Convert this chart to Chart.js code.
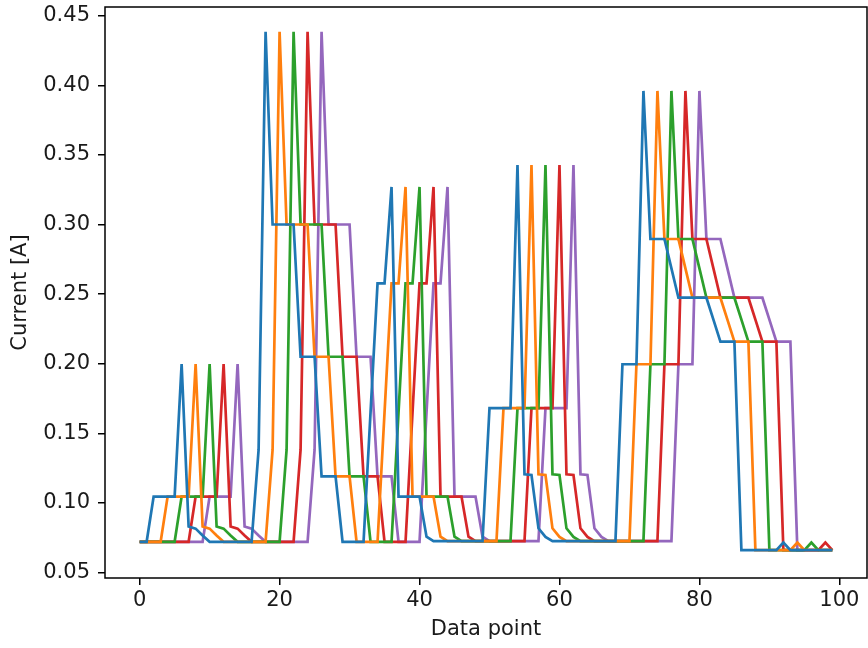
<!DOCTYPE html>
<html>
<head>
<meta charset="utf-8">
<script src="https://cdn.jsdelivr.net/npm/chart.js@4/dist/chart.umd.min.js"></script>
<style>
  html, body { margin: 0; padding: 0; background: #ffffff; }
  #wrap { width: 868px; height: 648px; position: relative; }
</style>
</head>
<body>
<div id="wrap"><canvas id="c" width="868" height="648"></canvas></div>
<script>
// ---- data ----
const xTicks = [0, 20, 40, 60, 80, 100];
const yTicks = [0.05, 0.10, 0.15, 0.20, 0.25, 0.30, 0.35, 0.40, 0.45];
const seriesNames = ['s0', 's1', 's2', 's3', 's4'];
const seriesColors = ['#1f77b4', '#ff7f0e', '#2ca02c', '#d62728', '#9467bd'];

const blue = [
  0.072,0.072,0.1045,0.1045,0.1045,0.1045,0.1998,0.083,0.0815,0.0765,
  0.072,0.072,0.072,0.072,0.072,0.072,0.072,0.138,0.4385,0.300,
  0.300,0.300,0.300,0.205,0.205,0.205,0.119,0.119,0.119,0.072,
  0.072,0.072,0.072,0.165,0.2577,0.2577,0.327,0.1045,0.1045,0.1045,
  0.1045,0.0757,0.0725,0.0725,0.0725,0.0725,0.0725,0.0725,0.0725,0.0725,
  0.168,0.168,0.168,0.168,0.3427,0.1205,0.12,0.0817,0.0755,0.0725,
  0.0725,0.0725,0.0725,0.0725,0.0725,0.0725,0.0725,0.0725,0.0725,0.1996,
  0.1996,0.1996,0.396,0.2896,0.2896,0.2896,0.2685,0.2474,0.2474,0.2474,
  0.2474,0.2474,0.2316,0.2158,0.2158,0.2158,0.066,0.066,0.066,0.066,
  0.066,0.066,0.0715,0.066,0.066,0.066,0.066,0.066,0.066,0.066
];
const orange = [
  0.072,0.072,0.072,0.072,0.1045,0.1045,0.1045,0.1045,0.1998,0.083,
  0.0815,0.0765,0.072,0.072,0.072,0.072,0.072,0.072,0.072,0.138,
  0.4385,0.300,0.300,0.300,0.300,0.205,0.205,0.205,0.119,0.119,
  0.119,0.072,0.072,0.072,0.072,0.165,0.2577,0.2577,0.327,0.1045,
  0.1045,0.1045,0.1045,0.0757,0.0725,0.0725,0.0725,0.0725,0.0725,0.0725,
  0.0725,0.0725,0.168,0.168,0.168,0.168,0.3427,0.1205,0.12,0.0817,
  0.0755,0.0725,0.0725,0.0725,0.0725,0.0725,0.0725,0.0725,0.0725,0.0725,
  0.0725,0.1996,0.1996,0.1996,0.396,0.2896,0.2896,0.2896,0.2685,0.2474,
  0.2474,0.2474,0.2474,0.2474,0.2316,0.2158,0.2158,0.2158,0.066,0.066,
  0.066,0.066,0.066,0.066,0.0715,0.066,0.066,0.066,0.066,0.066
];
const green = [
  0.072,0.072,0.072,0.072,0.072,0.072,0.1045,0.1045,0.1045,0.1045,
  0.1998,0.083,0.0815,0.0765,0.072,0.072,0.072,0.072,0.072,0.072,
  0.072,0.138,0.4385,0.300,0.300,0.300,0.300,0.205,0.205,0.205,
  0.119,0.119,0.119,0.072,0.072,0.072,0.072,0.165,0.2577,0.2577,
  0.327,0.1045,0.1045,0.1045,0.1045,0.0757,0.0725,0.0725,0.0725,0.0725,
  0.0725,0.0725,0.0725,0.0725,0.168,0.168,0.168,0.168,0.3427,0.1205,
  0.12,0.0817,0.0755,0.0725,0.0725,0.0725,0.0725,0.0725,0.0725,0.0725,
  0.0725,0.0725,0.0725,0.1996,0.1996,0.1996,0.396,0.2896,0.2896,0.2896,
  0.2685,0.2474,0.2474,0.2474,0.2474,0.2474,0.2316,0.2158,0.2158,0.2158,
  0.066,0.066,0.066,0.066,0.066,0.066,0.0715,0.066,0.066,0.066
];
const red = [
  0.072,0.072,0.072,0.072,0.072,0.072,0.072,0.072,0.1045,0.1045,
  0.1045,0.1045,0.1998,0.083,0.0815,0.0765,0.072,0.072,0.072,0.072,
  0.072,0.072,0.072,0.138,0.4385,0.300,0.300,0.300,0.300,0.205,
  0.205,0.205,0.119,0.119,0.119,0.072,0.072,0.072,0.072,0.165,
  0.2577,0.2577,0.327,0.1045,0.1045,0.1045,0.1045,0.0757,0.0725,0.0725,
  0.0725,0.0725,0.0725,0.0725,0.0725,0.0725,0.168,0.168,0.168,0.168,
  0.3427,0.1205,0.12,0.0817,0.0755,0.0725,0.0725,0.0725,0.0725,0.0725,
  0.0725,0.0725,0.0725,0.0725,0.0725,0.1996,0.1996,0.1996,0.396,0.2896,
  0.2896,0.2896,0.2685,0.2474,0.2474,0.2474,0.2474,0.2474,0.2316,0.2158,
  0.2158,0.2158,0.066,0.066,0.066,0.066,0.066,0.066,0.0715,0.066
];
const purple = [
  0.072,0.072,0.072,0.072,0.072,0.072,0.072,0.072,0.072,0.072,
  0.1045,0.1045,0.1045,0.1045,0.1998,0.083,0.0815,0.0765,0.072,0.072,
  0.072,0.072,0.072,0.072,0.072,0.138,0.4385,0.300,0.300,0.300,
  0.300,0.205,0.205,0.205,0.119,0.119,0.119,0.072,0.072,0.072,
  0.072,0.165,0.2577,0.2577,0.327,0.1045,0.1045,0.1045,0.1045,0.0757,
  0.0725,0.0725,0.0725,0.0725,0.0725,0.0725,0.0725,0.0725,0.168,0.168,
  0.168,0.168,0.3427,0.1205,0.12,0.0817,0.0755,0.0725,0.0725,0.0725,
  0.0725,0.0725,0.0725,0.0725,0.0725,0.0725,0.0725,0.1996,0.1996,0.1996,
  0.396,0.2896,0.2896,0.2896,0.2685,0.2474,0.2474,0.2474,0.2474,0.2474,
  0.2316,0.2158,0.2158,0.2158,0.066,0.066,0.066,0.066,0.066,0.066
];
const seriesValues = [blue, orange, green, red, purple];

// ---- chart ----
const FONT = "'DejaVu Sans', 'Liberation Sans', sans-serif";
const TEXT = '#1a1a1a';

const frame = {
  id: 'frame',
  afterDatasetsDraw(chart) {
    const {ctx, chartArea: a} = chart;
    ctx.save();
    ctx.strokeStyle = '#000';
    ctx.lineWidth = 1.5;
    ctx.strokeRect(a.left, a.top, a.right - a.left, a.bottom - a.top);
    ctx.restore();
  }
};

new Chart(document.getElementById('c'), {
  type: 'line',
  data: {
    datasets: seriesValues.map((vals, k) => ({
      label: seriesNames[k],
      data: vals.map((v, i) => ({x: i, y: v})),
      borderColor: seriesColors[k],
      backgroundColor: seriesColors[k],
      borderWidth: 2.7,
      pointRadius: 0,
      tension: 0,
      fill: false
    }))
  },
  options: {
    responsive: false,
    animation: false,
    events: [],
    layout: { padding: { top: 7, right: 1, left: 0, bottom: 0 } },
    plugins: { legend: { display: false }, tooltip: { enabled: false } },
    scales: {
      x: {
        type: 'linear',
        min: -4.95,
        max: 103.95,
        afterBuildTicks(s) { s.ticks = xTicks.map(v => ({value: v})); },
        afterFit(s) { s.height = 70; s.paddingLeft = 0; s.paddingRight = 0; },
        border: { display: false },
        grid: { drawOnChartArea: false, drawTicks: true, tickLength: 7, color: '#000', lineWidth: 1.5 },
        ticks: { color: TEXT, font: { family: FONT, size: 21 }, padding: 3, maxRotation: 0, autoSkip: false,
                 callback: v => String(v) },
        title: { display: true, text: 'Data point', color: TEXT, font: { family: FONT, size: 21 },
                 padding: { top: 0, bottom: 6 } }
      },
      y: {
        type: 'linear',
        min: 0.0460,
        max: 0.4563,
        afterBuildTicks(s) { s.ticks = yTicks.map(v => ({value: v})); },
        afterFit(s) { s.width = 105; s.paddingTop = 0; s.paddingBottom = 0; },
        border: { display: false },
        grid: { drawOnChartArea: false, drawTicks: true, tickLength: 7, color: '#000', lineWidth: 1.5 },
        ticks: { color: TEXT, font: { family: FONT, size: 21 }, padding: 8, autoSkip: false,
                 callback: v => Number(v).toFixed(2) },
        title: { display: true, text: 'Current [A]', color: TEXT, font: { family: FONT, size: 21 },
                 padding: { top: 8, bottom: 0 } }
      }
    }
  },
  plugins: [frame]
});
</script>
</body>
</html>
